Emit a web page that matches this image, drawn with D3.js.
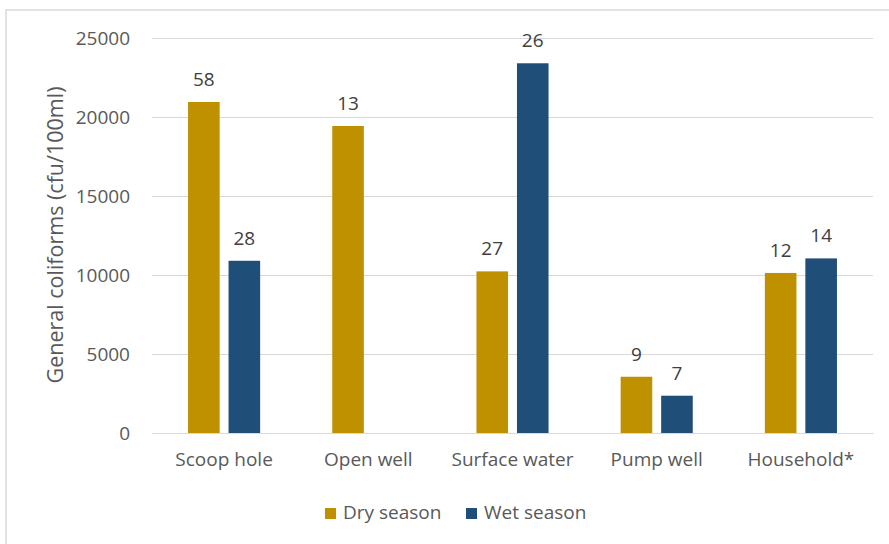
<!DOCTYPE html>
<html>
<head>
<meta charset="utf-8">
<script src="https://cdn.jsdelivr.net/npm/d3@7/dist/d3.min.js"></script>
<style>
  html, body { margin: 0; padding: 0; background: #fff; }
  svg { display: block; font-family: "Open Sans", "Noto Sans", sans-serif; }
</style>
</head>
<body>
<svg id="chart" width="889" height="544"></svg>
<script>
const categories = ["Scoop hole", "Open well", "Surface water", "Pump well", "Household*"];
const seriesNames = ["Dry season", "Wet season"];
const drySeason = [20950, 19430, 10230, 3560, 10130];
const wetSeason = [10900, null, 23400, 2360, 11050];
const dryLabels = ["58", "13", "27", "9", "12"];
const wetLabels = ["28", "", "26", "7", "14"];
const yTicks = [0, 5000, 10000, 15000, 20000, 25000];
const colors = ["#BF9000", "#1F4E79"];

const svg = d3.select("#chart");
const W = 889, H = 544;
const margin = { left: 152, right: 16, top: 38, bottom: 111 };
const plotW = W - margin.left - margin.right;
const plotH = H - margin.top - margin.bottom;

// chart border (partially cropped)
svg.append("rect")
  .attr("x", 6).attr("y", 10)
  .attr("width", W + 20).attr("height", H + 20)
  .attr("fill", "none").attr("stroke", "#d9d9d9").attr("stroke-width", 1.5);

const g = svg.append("g").attr("transform", `translate(${margin.left},${margin.top})`);

const x0 = d3.scaleBand().domain(categories).range([0, plotW]).paddingInner(0.5).paddingOuter(0.25);
const x1 = d3.scaleBand().domain(seriesNames).range([0, x0.bandwidth()]).paddingInner(0.22);
const y = d3.scaleLinear().domain([0, 25000]).range([plotH, 0]);

// gridlines
const yAxis = d3.axisLeft(y).tickValues(yTicks).tickSize(-plotW).tickPadding(22).tickFormat(d3.format("d"));
const ya = g.append("g").call(yAxis);
ya.select(".domain").remove();
ya.selectAll(".tick line").attr("stroke", "#d9d9d9").attr("stroke-width", 1);
ya.selectAll(".tick text").attr("fill", "#595959").attr("font-size", "19px")
  .attr("font-family", '"Open Sans", sans-serif');

// x axis
const xAxis = d3.axisBottom(x0).tickSize(0).tickPadding(20);
const xa = g.append("g").attr("transform", `translate(0,${plotH})`).call(xAxis);
xa.select(".domain").attr("stroke", "#d9d9d9");
xa.selectAll(".tick text").attr("fill", "#595959").attr("font-size", "19px")
  .attr("font-family", '"Open Sans", sans-serif');

const data = categories.map((c, i) => ({
  cat: c,
  vals: [
    { s: seriesNames[0], v: drySeason[i], lab: dryLabels[i] },
    { s: seriesNames[1], v: wetSeason[i], lab: wetLabels[i] }
  ].filter(d => d.v != null)
}));

const groups = g.selectAll(".grp").data(data).join("g")
  .attr("transform", d => `translate(${x0(d.cat)},0)`);

groups.selectAll("rect").data(d => d.vals).join("rect")
  .attr("x", d => x1(d.s))
  .attr("y", d => y(d.v))
  .attr("width", x1.bandwidth())
  .attr("height", d => plotH - y(d.v))
  .attr("fill", d => colors[seriesNames.indexOf(d.s)]);

groups.selectAll("text.lbl").data(d => d.vals).join("text")
  .attr("class", "lbl")
  .attr("x", d => x1(d.s) + x1.bandwidth() / 2)
  .attr("y", d => y(d.v) - 16)
  .attr("text-anchor", "middle")
  .attr("fill", "#404040")
  .attr("font-size", "19px")
  .text(d => d.lab);

// y axis title
svg.append("text")
  .attr("transform", `translate(63,235) rotate(-90)`)
  .attr("text-anchor", "middle")
  .attr("fill", "#595959")
  .attr("font-size", "21.5px")
  .text("General coliforms (cfu/100ml)");

// legend
const legendX = [325, 466];
const leg = svg.append("g");
seriesNames.forEach((s, i) => {
  leg.append("rect").attr("x", legendX[i]).attr("y", 508).attr("width", 11).attr("height", 11).attr("fill", colors[i]);
  leg.append("text").attr("x", legendX[i] + 18).attr("y", 518.5)
    .attr("fill", "#595959").attr("font-size", "19px").text(s);
});
</script>
</body>
</html>
